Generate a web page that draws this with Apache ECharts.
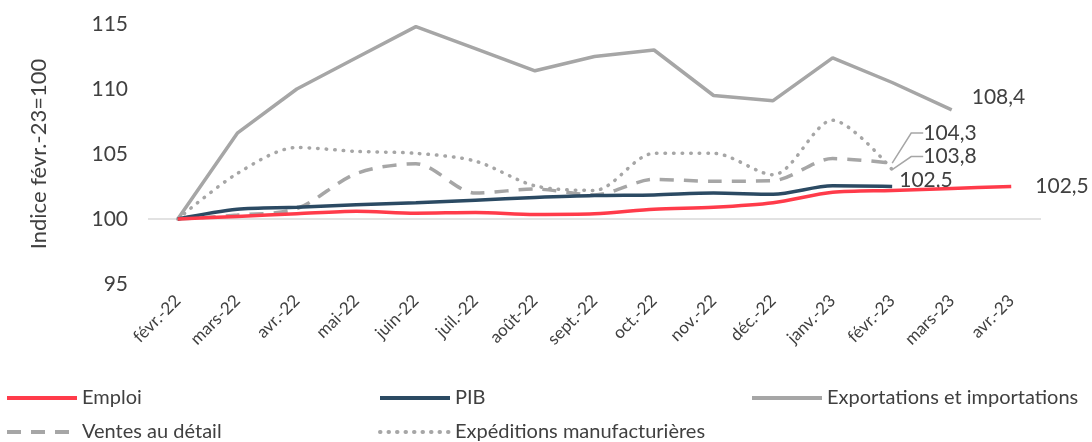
<!DOCTYPE html>
<html>
<head>
<meta charset="utf-8">
<script src="https://cdn.jsdelivr.net/npm/echarts@6/dist/echarts.min.js"></script>
<style>
  html, body { margin: 0; padding: 0; background: #fff; }
  #chart { width: 1092px; height: 442px; }
</style>
</head>
<body>
<div id="chart"></div>
<script>
// categories (mois)
const months = ['févr.-22', 'mars-22', 'avr.-22', 'mai-22', 'juin-22', 'juil.-22', 'août-22',
  'sept.-22', 'oct.-22', 'nov.-22', 'déc.-22', 'janv.-23', 'févr.-23', 'mars-23', 'avr.-23'];

// series values (indice févr.-23 = 100)
const emploi = [100, 100.2, 100.4, 100.6, 100.45, 100.5, 100.35, 100.4, 100.75, 100.9, 101.25, 102.05, 102.2, 102.35, 102.5];
const pib = [100, 100.75, 100.9, 101.1, 101.25, 101.45, 101.65, 101.8, 101.85, 102.0, 101.9, 102.55, 102.5];
const exportations = [100, 106.6, 110.0, 112.4, 114.8, 113.1, 111.4, 112.5, 113.0, 109.5, 109.1, 112.4, 110.5, 108.4];
const ventes = [100, 100.3, 100.8, 103.5, 104.25, 102.0, 102.3, 101.85, 103.05, 102.9, 102.95, 104.65, 104.3];
const expeditions = [100, 103.5, 105.5, 105.2, 105.05, 104.45, 102.55, 102.2, 105.05, 105.05, 103.4, 107.6, 103.8];

const yTicks = [95, 100, 105, 110, 115];

const textColor = '#404040';
const fontFamily = 'Lato, "Noto Sans", sans-serif';

// label only on the last point
function lastLabel(arr, label) {
  return arr.map(function (v, i) {
    if (i !== arr.length - 1) return v;
    return { value: v, label: Object.assign({ show: true }, label) };
  });
}

const labelText = {
  color: textColor,
  fontSize: 21,
  fontFamily: fontFamily,
  position: 'right',
  formatter: function (p) {
    return p.value.toFixed(1).replace('.', ',');
  }
};

const chart = echarts.init(document.getElementById('chart'));

function legendAt(name, left, top) {
  return {
    data: [name],
    left: left,
    top: top,
    itemWidth: 70,
    itemHeight: 14,
    itemGap: 8,
    padding: 0,
    itemStyle: { opacity: 0 },
    lineStyle: { width: 4 },
    textStyle: { color: textColor, fontSize: 20, fontFamily: fontFamily }
  };
}

chart.setOption({
  animation: false,
  textStyle: { fontFamily: fontFamily },
  grid: { left: 148, right: 51, top: 24, bottom: 158 },
  legend: [
    legendAt('Emploi', 5, 388),
    legendAt('PIB', 378, 388),
    legendAt('Exportations et importations', 750, 388),
    legendAt('Ventes au détail', 5, 422),
    legendAt('Expéditions manufacturières', 378, 422)
  ],
  xAxis: {
    type: 'category',
    data: months,
    boundaryGap: true,
    axisLine: { show: false },
    axisTick: { show: false },
    axisLabel: {
      rotate: 45,
      interval: 0,
      margin: 14,
      color: textColor,
      fontSize: 17,
      fontFamily: fontFamily
    }
  },
  yAxis: {
    type: 'value',
    min: yTicks[0],
    max: yTicks[yTicks.length - 1],
    interval: 5,
    name: 'Indice févr.-23=100',
    nameLocation: 'middle',
    nameRotate: 90,
    nameGap: 98,
    nameTextStyle: { color: textColor, fontSize: 22, fontFamily: fontFamily },
    axisLine: { show: false },
    axisTick: { show: false },
    splitLine: { show: false },
    axisLabel: { color: textColor, fontSize: 21, margin: 20, fontFamily: fontFamily }
  },
  series: [
    {
      name: 'Emploi',
      type: 'line',
      data: lastLabel(emploi, Object.assign({}, labelText, { offset: [19, 0] })),
      smooth: 0.3,
      symbol: 'circle',
      symbolSize: 0.1,
      z: 5,
      lineStyle: { color: '#FF3B4A', width: 3.5 },
      itemStyle: { color: '#FF3B4A' },
      markLine: {
        silent: true,
        symbol: 'none',
        label: { show: false },
        lineStyle: { color: '#D9D9D9', width: 1.5, type: 'solid' },
        data: [{ yAxis: 100 }],
        z: 1
      }
    },
    {
      name: 'PIB',
      type: 'line',
      data: lastLabel(pib, Object.assign({}, labelText, { offset: [2, -6] })),
      smooth: 0.3,
      symbol: 'circle',
      symbolSize: 0.1,
      z: 4,
      lineStyle: { color: '#2B4A63', width: 3.5 },
      itemStyle: { color: '#2B4A63' }
    },
    {
      name: 'Exportations et importations',
      type: 'line',
      data: lastLabel(exportations, Object.assign({}, labelText, { offset: [15, -13] })),
      symbol: 'circle',
      symbolSize: 0.1,
      z: 3,
      lineStyle: { color: '#A6A6A6', width: 3.5 },
      itemStyle: { color: '#A6A6A6' }
    },
    {
      name: 'Ventes au détail',
      type: 'line',
      data: lastLabel(ventes, labelText),
      smooth: 0.3,
      symbol: 'circle',
      symbolSize: 0.1,
      z: 3,
      lineStyle: { color: '#A6A6A6', width: 3.5, type: [14, 10] },
      itemStyle: { color: '#A6A6A6' },
      labelLine: { show: true, length2: 12, lineStyle: { color: '#A6A6A6', width: 1.5 } },
      labelLayout: { dx: 26, dy: -30 }
    },
    {
      name: 'Expéditions manufacturières',
      type: 'line',
      data: lastLabel(expeditions, labelText),
      smooth: 0.3,
      symbol: 'circle',
      symbolSize: 0.1,
      z: 3,
      lineStyle: { color: '#A6A6A6', width: 3.5, type: [0.5, 8], cap: 'round' },
      itemStyle: { color: '#A6A6A6' },
      labelLine: { show: true, length2: 12, lineStyle: { color: '#A6A6A6', width: 1.5 } },
      labelLayout: { dx: 26, dy: -13 }
    }
  ]
});
</script>
</body>
</html>
